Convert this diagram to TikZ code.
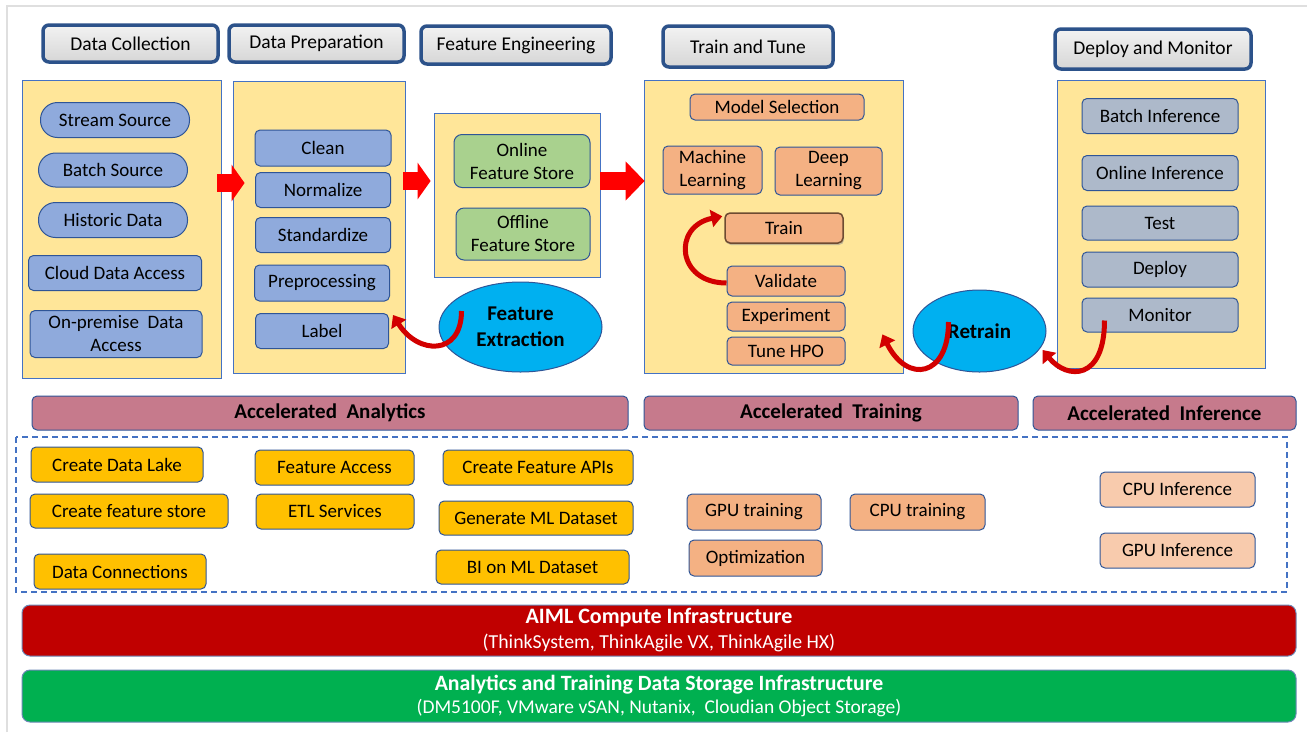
\documentclass[tikz,border=0pt]{standalone}
\usepackage{fontspec}
\setmainfont{Carlito}
\usetikzlibrary{arrows.meta,positioning,calc,shapes.geometric,shadows}

\definecolor{panelfill}{RGB}{255,230,153}
\definecolor{paneldraw}{RGB}{68,114,196}
\definecolor{boxdraw}{RGB}{47,85,151}
\definecolor{hdrdraw}{RGB}{44,82,138}
\definecolor{srcblue}{RGB}{143,170,220}
\definecolor{storegreen}{RGB}{169,209,142}
\definecolor{mdlorange}{RGB}{244,177,131}
\definecolor{trainedge}{RGB}{110,75,50}
\definecolor{infgray}{RGB}{173,185,202}
\definecolor{barpink}{RGB}{198,122,140}
\definecolor{svcgold}{RGB}{255,192,0}
\definecolor{peach}{RGB}{248,203,173}
\definecolor{cyanfill}{RGB}{0,176,240}
\definecolor{infrared}{RGB}{192,0,0}
\definecolor{infragreen}{RGB}{0,176,80}
\definecolor{arrowred}{RGB}{255,0,0}
\definecolor{curvered}{RGB}{210,0,0}

\tikzset{
    hdr/.style={draw=hdrdraw,line width=3.5pt,rounded corners=6pt,top color=gray!10,bottom color=gray!32,font=\fontsize{19.5}{23}\selectfont,inner sep=1pt},
    panel/.style={draw=paneldraw,fill=panelfill,line width=0.8pt,inner sep=0pt},
    box/.style={draw=boxdraw,line width=1pt,rounded corners=5pt,align=center,font=\fontsize{19}{23}\selectfont,inner sep=1pt},
    pill/.style={box,rounded corners=17pt,fill=srcblue},
    src/.style={box,fill=srcblue},
    store/.style={box,fill=storegreen,rounded corners=8pt},
    mdl/.style={box,fill=mdlorange},
    trainbox/.style={box,fill=mdlorange,draw=trainedge,line width=1.5pt,drop shadow={shadow xshift=1pt,shadow yshift=-2pt,fill=black!45}},
    inf/.style={box,fill=infgray},
    svc/.style={box,fill=svcgold},
    soft/.style={box,fill=peach},
    oval/.style={ellipse,draw=boxdraw,line width=1pt,fill=cyanfill,align=center,inner sep=0pt,font=\fontsize{21}{26}\selectfont\bfseries},
    tbar/.style={draw=boxdraw,line width=1pt,fill=barpink,rounded corners=5pt,font=\fontsize{21}{25}\selectfont\bfseries},
    infra/.style={draw=boxdraw!70,line width=1pt,rounded corners=8pt,text=white,align=center},
    bigarrow/.style={draw=arrowred,line width=18pt},
    curvearrow/.style={draw=curvered,line width=5pt,-{Triangle[width=17pt,length=11pt]}}
}

\begin{document}
\begin{tikzpicture}[x=1pt,y=-1pt]
    \useasboundingbox (0,0) rectangle (1307,732);
    \draw[gray!25,line width=2pt] (7,732) -- (7,6) -- (1307,6);

    % stage headers
    \node[hdr,minimum width=175pt,minimum height=37pt] (hcol) at (130.5,43.5) {Data Collection};
    \node[hdr,minimum width=175pt,minimum height=37pt] (hprep) at (316.5,43.5) {Data Preparation};
    \node[hdr,minimum width=190pt,minimum height=38pt] (hfeat) at (516,45) {Feature Engineering};
    \node[hdr,minimum width=170pt,minimum height=41pt] (htrain) at (748,46.5) {Train and Tune};
    \node[hdr,minimum width=196pt,minimum height=40pt] (hdep) at (1153,49) {Deploy and Monitor};

    % stage panels
    \node[panel,minimum width=199pt,minimum height=298pt] (p1) at (121.5,229) {};
    \node[panel,minimum width=172pt,minimum height=292pt] (p2) at (319,227) {};
    \node[panel,minimum width=166pt,minimum height=164pt] (p3) at (517,195) {};
    \node[panel,minimum width=259pt,minimum height=293pt] (p4) at (773.5,226.5) {};
    \node[panel,minimum width=208pt,minimum height=288pt] (p5) at (1161,224) {};

    % data collection
    \node[pill,minimum width=149pt,minimum height=35pt] (stream) at (115,120) {Stream Source};
    \node[pill,minimum width=149pt,minimum height=34pt] (batch) at (113,170) {Batch Source};
    \node[pill,minimum width=149pt,minimum height=35pt] (hist) at (113,220) {Historic Data};
    \node[src,minimum width=173pt,minimum height=35pt] (cloud) at (115,273) {Cloud Data Access};
    \node[src,minimum width=172pt,minimum height=47pt] (onprem) at (116,334) {On-premise~ Data\\Access};

    % data preparation
    \node[src,minimum width=136pt,minimum height=36pt] (clean) at (323,148) {Clean};
    \node[src,minimum width=135pt,minimum height=35pt] (norm) at (323,190) {Normalize};
    \node[src,minimum width=135pt,minimum height=35pt] (std) at (323,235) {Standardize};
    \node[src,minimum width=135pt,minimum height=36pt] (prep) at (322,283) {Preprocessing};
    \node[src,minimum width=133pt,minimum height=35pt] (label) at (322,331) {Label};

    % feature engineering
    \node[store,minimum width=136pt,minimum height=53pt] (online) at (522,161) {Online\\Feature Store};
    \node[store,minimum width=134pt,minimum height=52pt] (offline) at (523,234) {Offline\\Feature Store};
    \node[oval,minimum width=163pt,minimum height=90pt] (fext) at (520.5,327) {Feature\\Extraction};

    % train and tune
    \node[mdl,minimum width=174pt,minimum height=26pt] (msel) at (777,107) {Model Selection};
    \node[mdl,minimum width=99pt,minimum height=48pt] (ml) at (712.5,170) {Machine\\Learning};
    \node[mdl,minimum width=107pt,minimum height=48pt] (dl) at (828.5,171) {Deep\\Learning};
    \node[trainbox,minimum width=118pt,minimum height=30pt] (train) at (784,228) {Train};
    \node[mdl,minimum width=118pt,minimum height=30pt] (valid) at (786,281) {Validate};
    \node[mdl,minimum width=118pt,minimum height=29pt] (exper) at (786,316.5) {Experiment};
    \node[mdl,minimum width=118pt,minimum height=28pt] (hpo) at (786,351) {Tune HPO};
    \node[oval,minimum width=133pt,minimum height=82pt] (retrain) at (979.5,331) {Retrain};

    % deploy and monitor
    \node[inf,minimum width=156pt,minimum height=35pt] (binf) at (1160,116) {Batch Inference};
    \node[inf,minimum width=156pt,minimum height=35pt] (oinf) at (1160,173) {Online Inference};
    \node[inf,minimum width=156pt,minimum height=34pt] (test) at (1160,223) {Test};
    \node[inf,minimum width=156pt,minimum height=35pt] (deploy) at (1160,269.5) {Deploy};
    \node[inf,minimum width=156pt,minimum height=34pt] (mon) at (1160,315) {Monitor};

    % flow between stages
    \draw[bigarrow,-{Triangle[width=36pt,length=13pt]}] ($(p1.east |- 0,183)+(-4,0)$) -- ($(p2.west |- 0,183)+(12,0)$);
    \draw[bigarrow,-{Triangle[width=36pt,length=13pt]}] ($(p2.east |- 0,181)+(-2,0)$) -- ($(p3.west |- 0,181)+(-3,0)$);
    \draw[bigarrow,-{Triangle[width=38pt,length=19pt]}] (p3.east |- 0,181) -- ($(p4.west |- 0,181)+(1,0)$);

    % feedback loops
    \draw[curvearrow] ([shift={(-59,-16)}]fext.center) .. controls +(0,45) and +(25,40) .. ([shift={(4,2)}]label.north east);
    \draw[curvearrow] ([shift={(0,2)}]valid.west) .. controls +(-50,0) and +(-50,10) .. ([shift={(-2,4)}]train.north west);
    \draw[curvearrow] ([shift={(-31,-9)}]retrain.center) .. controls +(0,55) and +(25,50) .. ([shift={(-21,-39)}]p4.south east);
    \draw[curvearrow] ([shift={(23,-12)}]mon.south west) .. controls +(0,60) and +(25,30) .. ([shift={(-4,19)}]retrain.east);

    % accelerated layers
    \node[tbar,minimum width=596pt,minimum height=34pt] (aana) at (330,413) {Accelerated~ Analytics};
    \node[tbar,minimum width=374pt,minimum height=34pt] (atrain) at (831,413) {Accelerated~ Training};
    \node[tbar,minimum width=263pt,minimum height=34pt] (ainf) at (1164.5,413) {Accelerated~ Inference};
    \draw[paneldraw,line width=2pt,dash pattern=on 6pt off 4pt] (16,437) rectangle (1287,592);

    \node[svc,minimum width=172pt,minimum height=35pt] (lake) at (117,464.5) {Create Data Lake};
    \node[svc,minimum width=198pt,minimum height=34pt] (fstore) at (129,511) {Create feature store};
    \node[svc,minimum width=172pt,minimum height=35pt] (conn) at (120,571.5) {Data Connections};
    \node[svc,minimum width=159pt,minimum height=35pt] (facc) at (334.5,467.5) {Feature Access};
    \node[svc,minimum width=158pt,minimum height=35pt] (etl) at (335,511.5) {ETL Services};
    \node[svc,minimum width=190pt,minimum height=35pt] (fapi) at (538,467.5) {Create Feature APIs};
    \node[svc,minimum width=194pt,minimum height=34pt] (gml) at (536,518) {Generate ML Dataset};
    \node[svc,minimum width=193pt,minimum height=34pt] (biml) at (532.5,567) {BI on ML Dataset};
    \node[mdl,minimum width=134pt,minimum height=36pt] (gput) at (754,512) {GPU training};
    \node[mdl,minimum width=135pt,minimum height=36pt] (cput) at (917.5,512) {CPU training};
    \node[mdl,minimum width=133pt,minimum height=36pt] (optim) at (755.5,558) {Optimization};
    \node[soft,minimum width=155pt,minimum height=35pt] (cpui) at (1177.5,489.5) {CPU Inference};
    \node[soft,minimum width=155pt,minimum height=35pt] (gpui) at (1177.5,550.5) {GPU Inference};

    % infrastructure
    \node[infra,fill=infrared,minimum width=1274pt,minimum height=51pt] (compute) at (659,630.5)
        {{\fontsize{22}{26}\selectfont\bfseries AIML Compute Infrastructure}\\[6pt]{\fontsize{19.8}{23}\selectfont (ThinkSystem, ThinkAgile VX, ThinkAgile HX)}};
    \node[infra,fill=infragreen,minimum width=1274pt,minimum height=52pt] (storage) at (659,696)
        {{\fontsize{21.8}{26}\selectfont\bfseries Analytics and Training Data Storage Infrastructure}\\[5pt]{\fontsize{19.5}{23}\selectfont (DM5100F, VMware vSAN, Nutanix,~ Cloudian Object Storage)}};
\end{tikzpicture}
\end{document}
